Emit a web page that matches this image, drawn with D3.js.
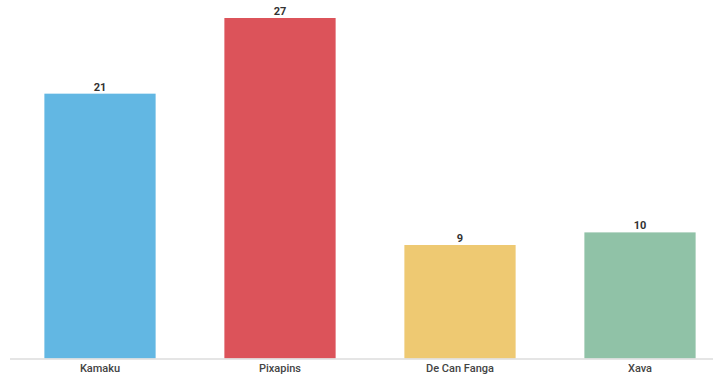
<!DOCTYPE html>
<html><head><meta charset="utf-8">
<script src="https://cdn.jsdelivr.net/npm/d3@7"></script>
<style>
html,body{margin:0;padding:0;background:#fff;}
svg{display:block;font-family:Roboto,"Noto Sans",sans-serif;}
</style></head>
<body>
<svg id="chart" width="719" height="378"></svg>
<script>
const categories = ["Kamaku", "Pixapins", "De Can Fanga", "Xava"];
const values = [21, 27, 9, 10];
const colors = ["#62B7E3", "#DC535A", "#EEC972", "#90C2A7"];

const svg = d3.select("#chart");
const baseY = 358.5;
const x = d3.scaleBand().domain(categories).range([10, 730]).paddingInner(0.382).paddingOuter(0.191);
const y = d3.scaleLinear().domain([0, 27]).range([baseY, 18]);

svg.selectAll("rect.bar").data(categories).enter().append("rect")
  .attr("class", "bar")
  .attr("x", d => x(d))
  .attr("width", x.bandwidth())
  .attr("y", (d, i) => y(values[i]))
  .attr("height", (d, i) => baseY - y(values[i]))
  .attr("fill", (d, i) => colors[i]);

svg.selectAll("text.val").data(categories).enter().append("text")
  .attr("class", "val")
  .attr("x", d => x(d) + x.bandwidth() / 2)
  .attr("y", (d, i) => y(values[i]) - 3)
  .attr("text-anchor", "middle")
  .attr("font-size", 11)
  .attr("font-weight", 700)
  .attr("fill", "#333")
  .text((d, i) => values[i]);

const axis = svg.append("g").attr("transform", `translate(0,${baseY})`)
  .call(d3.axisBottom(x).tickSize(0).tickPadding(6));
axis.select(".domain").attr("d", "M10,0.5H713").attr("stroke", "#ddd").attr("stroke-width", 1.5);
axis.selectAll("text").attr("font-size", 11).attr("font-weight", 500)
  .attr("fill", "#444").attr("font-family", "Roboto,sans-serif");
</script>
</body></html>
